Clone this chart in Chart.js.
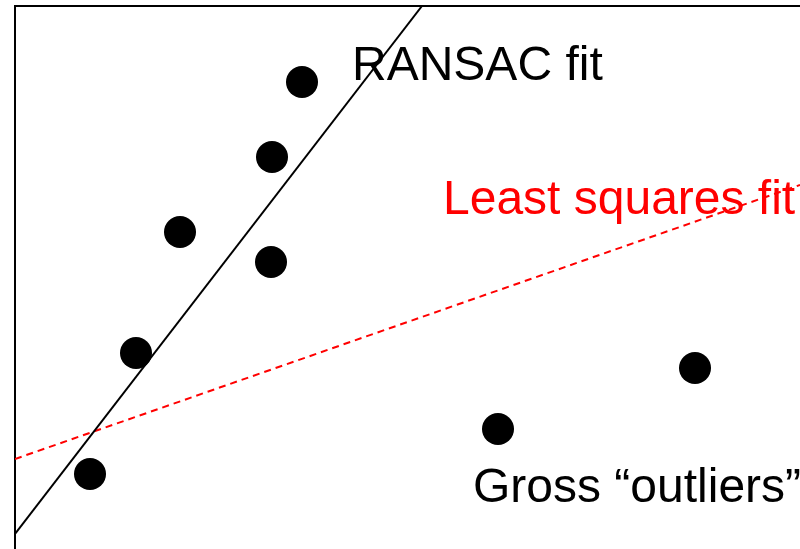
<!DOCTYPE html>
<html lang="en">
<head>
  <meta charset="UTF-8">
  <title>RANSAC vs least squares</title>
  <script src="https://cdn.jsdelivr.net/npm/chart.js"></script>
  <style>
    body { margin: 0; background: #fff; }
    canvas { display: block; }
  </style>
</head>
<body>
  <canvas id="grafico" width="800" height="549"></canvas>

  <script>
    // data points (x, y in arbitrary units, y up)
    const puntosX = [28.7, 25.7, 16.5, 25.6, 12.1, 7.5, 48.3, 68.0];
    const puntosY = [46.7, 39.2, 31.7, 28.7, 19.6, 7.5, 12.0, 18.1];

    // fitted lines, given by two end points
    const ransacX = [0, 40.7];
    const ransacY = [1.5, 54.3];
    const lsqX = [0, 78.5];
    const lsqY = [9.0, 36.4];

    // text labels
    const etiquetas = ['RANSAC fit', 'Least squares fit', 'Gross \u201coutliers\u201d'];
    const etiquetasX = [33.7, 42.8, 45.8];
    const etiquetasY = [46.9, 33.5, 4.7];
    const etiquetasColor = ['#000000', '#ff0000', '#000000'];

    const xMax = 78.5;
    const yMax = 54.3;

    const toXY = (xs, ys) => xs.map((x, i) => ({ x: x, y: ys[i] }));

    const textos = {
      id: 'textos',
      afterDatasetsDraw(chart) {
        const c = chart.ctx;
        const sx = chart.scales.x, sy = chart.scales.y;
        c.save();
        c.font = '48px "Liberation Sans", Arial, sans-serif';
        c.textBaseline = 'alphabetic';
        c.textAlign = 'left';
        etiquetas.forEach((t, i) => {
          c.fillStyle = etiquetasColor[i];
          c.fillText(t, sx.getPixelForValue(etiquetasX[i]), sy.getPixelForValue(etiquetasY[i]));
        });
        c.restore();
      }
    };

    const chart = new Chart(document.getElementById('grafico').getContext('2d'), {
      type: 'scatter',
      data: {
        datasets: [
          {
            label: 'Least squares fit',
            data: toXY(lsqX, lsqY),
            showLine: true,
            borderColor: '#ff0000',
            borderWidth: 2,
            borderDash: [7, 5],
            pointRadius: 0,
            order: 3
          },
          {
            label: 'RANSAC fit',
            data: toXY(ransacX, ransacY),
            showLine: true,
            borderColor: '#000000',
            borderWidth: 2,
            pointRadius: 0,
            order: 2
          },
          {
            label: 'Datos',
            data: toXY(puntosX, puntosY),
            backgroundColor: '#000000',
            borderWidth: 0,
            pointRadius: 16,
            order: 1
          }
        ]
      },
      options: {
        responsive: false,
        animation: false,
        layout: { autoPadding: false, padding: { left: 15, top: 6, right: 0, bottom: 0 } },
        plugins: {
          legend: { display: false },
          tooltip: { enabled: false }
        },
        scales: {
          x: {
            type: 'linear',
            position: 'top',
            min: 0,
            max: xMax,
            grid: { display: false, drawTicks: false },
            ticks: { display: false },
            border: { display: true, color: '#000000', width: 2 }
          },
          y: {
            type: 'linear',
            position: 'left',
            min: 0,
            max: yMax,
            grid: { display: false, drawTicks: false },
            ticks: { display: false },
            border: { display: true, color: '#000000', width: 2 }
          }
        }
      },
      plugins: [textos]
    });
  </script>
</body>
</html>
